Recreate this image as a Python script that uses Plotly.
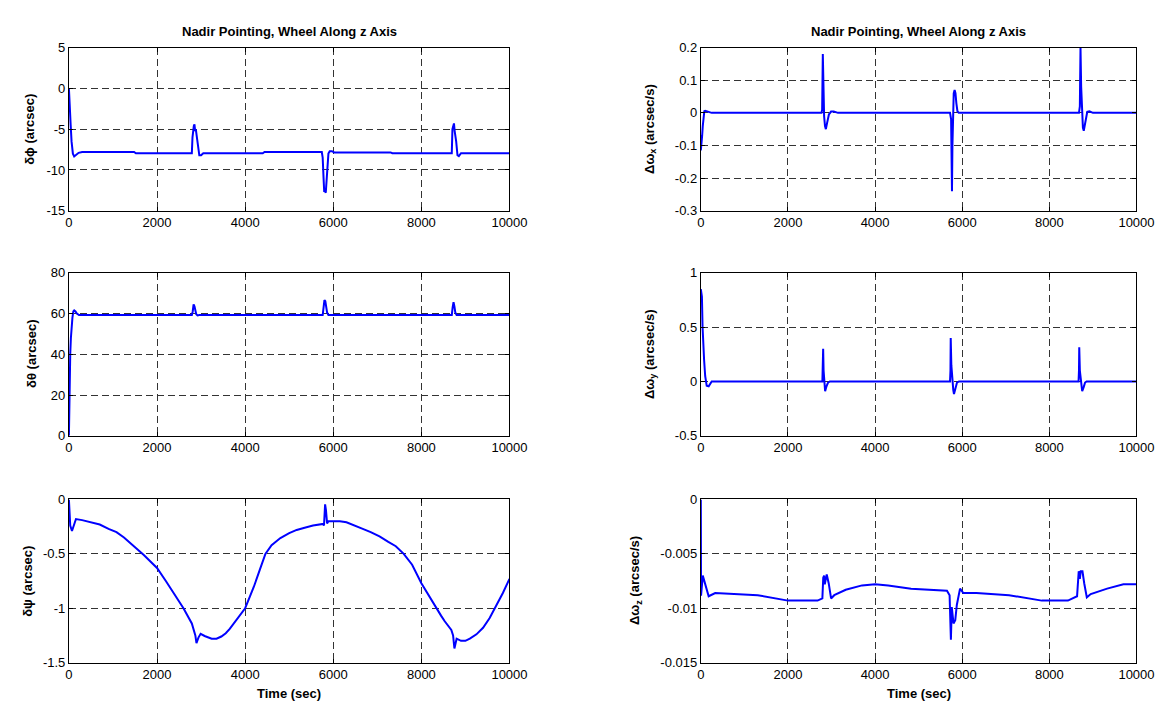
import plotly.graph_objects as go

W, H = 1172, 705

# ---------------- data ----------------
t_phi = [0, 10, 20, 40, 60, 90, 120, 160, 220, 300, 1480, 1520, 2790, 2805, 2820, 2835, 2850, 2865,
         2880, 2900, 2930, 2960, 3000, 3050, 4400, 4440, 5740, 5760, 5780, 5795, 5810, 5830, 5840,
         5855, 5870, 5890, 5920, 5970, 6020, 7300, 7340, 8690, 8705, 8720, 8740, 8755, 8770, 8790,
         8820, 8850, 8900, 10000]
phi = [0, -1.5, -4.0, -4.5, -6.5, -8.0, -8.35, -8.2, -7.9, -7.8, -7.8, -7.95, -7.95, -6.0, -5.0,
       -4.6, -4.4, -5.2, -5.0, -6.0, -7.5, -8.2, -8.2, -7.95, -7.95, -7.8, -7.8, -8.5, -11.0, -12.7,
       -12.5, -12.8, -12.0, -10.5, -9.0, -8.0, -7.7, -7.7, -7.85, -7.85, -7.95, -7.95, -5.0, -4.5,
       -4.3, -5.2, -5.6, -6.5, -8.2, -8.3, -7.95, -7.95]

t_theta = [0, 5, 10, 20, 30, 45, 60, 80, 100, 120, 150, 180, 230, 2790, 2810, 2830, 2850, 2870,
           2890, 2920, 2960, 5760, 5780, 5800, 5820, 5840, 5860, 5890, 5930, 8690, 8710, 8730,
           8750, 8770, 8800, 8840, 10000]
theta = [0, 12, 20, 32, 40, 48, 55, 58, 61, 61.5, 61, 60, 59.2, 59.2, 61, 64.5, 63.5, 61, 59.6,
         59.0, 59.2, 59.2, 63, 66.5, 66, 63, 60.5, 59.2, 59.2, 59.2, 63, 65.5, 63.5, 60.5, 59.2,
         59.2, 59.2]

t_psi = [0, 10, 30, 70, 130, 160, 300, 500, 700, 900, 1080, 1250, 1450, 1600, 1700, 1850, 2000,
         2200, 2420, 2600, 2790, 2840, 2870, 2895, 2940, 2990, 3080, 3240, 3350, 3460, 3560, 3650,
         3800, 4000, 4100, 4200, 4330, 4460, 4600, 4800, 5000, 5170, 5350, 5540, 5770, 5790, 5815,
         5835, 5860, 5890, 6000, 6150, 6300, 6500, 6670, 6850, 7050, 7250, 7420, 7600, 7790, 8000,
         8150, 8300, 8450, 8530, 8680, 8720, 8750, 8800, 8900, 9000, 9100, 9250, 9400, 9550, 9700,
         9850, 10000]
psi = [0, -0.1, -0.24, -0.29, -0.22, -0.18, -0.19, -0.21, -0.23, -0.27, -0.30, -0.35, -0.42,
       -0.47, -0.51, -0.57, -0.63, -0.75, -0.885, -1.0, -1.14, -1.2, -1.25, -1.32, -1.27, -1.235,
       -1.255, -1.28, -1.28, -1.26, -1.23, -1.19, -1.11, -1.0, -0.9, -0.8, -0.65, -0.5, -0.42,
       -0.355, -0.31, -0.28, -0.26, -0.24, -0.225, -0.24, -0.045, -0.1, -0.22, -0.2, -0.2, -0.2,
       -0.21, -0.24, -0.27, -0.3, -0.34, -0.39, -0.43, -0.5, -0.6, -0.77, -0.87, -0.98, -1.07,
       -1.12, -1.2, -1.25, -1.37, -1.28, -1.3, -1.3, -1.28, -1.24, -1.18, -1.09, -0.98, -0.86,
       -0.73]

t_wx = [0, 15, 30, 45, 60, 80, 100, 150, 250, 2770, 2785, 2800, 2815, 2830, 2850, 2870, 2900,
        2940, 2990, 3050, 3150, 5720, 5745, 5765, 5775, 5790, 5805, 5825, 5845, 5865, 5890, 5920,
        8680, 8700, 8715, 8730, 8750, 8770, 8790, 8830, 8870, 8920, 9000, 10000]
wx = [-0.115, -0.1, -0.07, -0.04, -0.01, 0.005, 0.006, 0.004, 0.0, 0.0, 0.01, 0.18, 0.06, -0.01,
      -0.04, -0.05, -0.03, -0.005, 0.004, 0.004, 0.0, 0.0, -0.02, -0.24, -0.1, 0.02, 0.06, 0.07,
      0.06, 0.03, 0.005, 0.0, 0.0, 0.02, 0.2, 0.08, -0.01, -0.045, -0.055, -0.02, 0.003, 0.005,
      0.0, 0.0]

t_wy = [0, 15, 25, 40, 55, 75, 100, 135, 180, 250, 2790, 2800, 2808, 2818, 2835, 2853, 2880,
        2920, 2960, 5720, 5730, 5736, 5750, 5770, 5795, 5811, 5840, 5880, 5925, 8670, 8680, 8686,
        8700, 8720, 8740, 8754, 8790, 8820, 8855, 10000]
wy = [0.85, 0.8, 0.78, 0.5, 0.25, 0.2, 0.05, -0.04, -0.045, 0.0, 0.0, 0.1, 0.3, 0.1, 0.0, -0.09,
      -0.05, -0.01, 0.0, 0.0, 0.1, 0.4, 0.15, 0.0, -0.08, -0.115, -0.07, -0.01, 0.0, 0.0, 0.1,
      0.315, 0.1, 0.0, -0.06, -0.09, -0.05, -0.01, 0.0, 0.0]

t_wz = [0, 5, 45, 90, 180, 330, 706, 1306, 2000, 2680, 2790, 2810, 2830, 2845, 2860, 2890, 2935,
        2990, 3063, 3326, 3700, 4000, 4300, 4826, 5650, 5710, 5740, 5760, 5800, 5840, 5876, 5950,
        6026, 6326, 7076, 7826, 8426, 8636, 8674, 8700, 8720, 8760, 8800, 8860, 8950, 9326, 9700,
        10000]
wz = [0, -0.00885, -0.0070, -0.0077, -0.0089, -0.0086, -0.0087, -0.0088, -0.0093, -0.0093,
      -0.0091, -0.0072, -0.0070, -0.0078, -0.0075, -0.0069, -0.0077, -0.0091, -0.0088, -0.0083,
      -0.0079, -0.0078, -0.0079, -0.0082, -0.0084, -0.0088, -0.0129, -0.0099, -0.0114, -0.0111,
      -0.0097, -0.0082, -0.0086, -0.0086, -0.0088, -0.0093, -0.0093, -0.0089, -0.0066, -0.0073,
      -0.0066, -0.0066, -0.0077, -0.0090, -0.0087, -0.0082, -0.0078, -0.0078]

x_ticks = [0, 2000, 4000, 6000, 8000, 10000]
x_ticktext = ["0", "2000", "4000", "6000", "8000", "10000"]

title_text = "Nadir Pointing, Wheel Along z Axis"
xlabel_text = "Time (sec)"

panels = [
    # (t, y, yrange, ytickvals, yticktext, ylabel, column, row)
    (t_phi, phi, [-15, 5], [-15, -10, -5, 0, 5], ["-15", "-10", "-5", "0", "5"],
     "δϕ (arcsec)", 0, 0),
    (t_wx, wx, [-0.3, 0.2], [-0.3, -0.2, -0.1, 0, 0.1, 0.2],
     ["-0.3", "-0.2", "-0.1", "0", "0.1", "0.2"], "Δω<sub>x</sub> (arcsec/s)", 1, 0),
    (t_theta, theta, [0, 80], [0, 20, 40, 60, 80], ["0", "20", "40", "60", "80"],
     "δθ (arcsec)", 0, 1),
    (t_wy, wy, [-0.5, 1], [-0.5, 0, 0.5, 1], ["-0.5", "0", "0.5", "1"],
     "Δω<sub>y</sub> (arcsec/s)", 1, 1),
    (t_psi, psi, [-1.5, 0], [-1.5, -1, -0.5, 0], ["-1.5", "-1", "-0.5", "0"],
     "δψ (arcsec)", 0, 2),
    (t_wz, wz, [-0.015, 0], [-0.015, -0.01, -0.005, 0], ["-0.015", "-0.01", "-0.005", "0"],
     "Δω<sub>z</sub> (arcsec/s)", 1, 2),
]

# ---------------- layout geometry (pixels) ----------------
col_px = [(58, 507), (702, 1146)]
row_px = [(33.3, 200), (263.3, 430), (495, 661.7)]
ylabel_x = {(0, 0): 18, (0, 1): 20, (0, 2): 15, (1, 0): 650, (1, 1): 650, (1, 2): 635}

FONT = "Liberation Sans, Arial, Helvetica, sans-serif"

fig = go.Figure()
layout = dict(
    width=W, height=H,
    margin=dict(l=0, r=0, t=0, b=0),
    paper_bgcolor="white", plot_bgcolor="white",
    showlegend=False,
    font=dict(family=FONT, size=13, color="black"),
)
annotations = []

for i, (t, y, yr, yv, yt, ylab, c, r) in enumerate(panels):
    k = i + 1
    xa = "xaxis" if k == 1 else f"xaxis{k}"
    ya = "yaxis" if k == 1 else f"yaxis{k}"
    fig.add_trace(go.Scatter(x=t, y=y, mode="lines",
                             line=dict(color="#0000FF", width=2),
                             xaxis="x" if k == 1 else f"x{k}",
                             yaxis="y" if k == 1 else f"y{k}",
                             hoverinfo="skip"))
    x0, x1 = col_px[c]
    y0, y1 = row_px[r]
    common = dict(showline=True, linecolor="black", linewidth=1, mirror="ticks",
                  ticks="inside", ticklen=4, tickcolor="black",
                  showgrid=True, gridcolor="#333333", gridwidth=1, griddash="7px,4px",
                  zeroline=False, tickfont=dict(family=FONT, size=13, color="black"))
    layout[xa] = dict(domain=[x0 / W, x1 / W], range=[0, 10000],
                      anchor="y" if k == 1 else f"y{k}",
                      tickvals=x_ticks, ticktext=x_ticktext, **common)
    layout[ya] = dict(domain=[1 - y1 / H, 1 - y0 / H], range=yr,
                      anchor="x" if k == 1 else f"x{k}",
                      tickvals=yv, ticktext=yt, **common)
    annotations.append(dict(text=f"<b>{ylab}</b>", textangle=-90,
                            x=ylabel_x[(c, r)] / W, y=1 - (y0 + y1) / 2 / H,
                            xref="paper", yref="paper", xanchor="center", yanchor="middle",
                            showarrow=False, font=dict(family=FONT, size=13, color="black")))
    if r == 0:
        annotations.append(dict(text=f"<b>{title_text}</b>",
                                x=(x0 + x1) / 2 / W, y=1 - 16.5 / H,
                                xref="paper", yref="paper", xanchor="center", yanchor="middle",
                                showarrow=False, font=dict(family=FONT, size=13, color="black")))
    if r == 2:
        annotations.append(dict(text=f"<b>{xlabel_text}</b>",
                                x=(x0 + x1) / 2 / W, y=1 - 693 / H,
                                xref="paper", yref="paper", xanchor="center", yanchor="middle",
                                showarrow=False, font=dict(family=FONT, size=13, color="black")))

layout["annotations"] = annotations
fig.update_layout(**layout)
fig.write_html("out.html")
